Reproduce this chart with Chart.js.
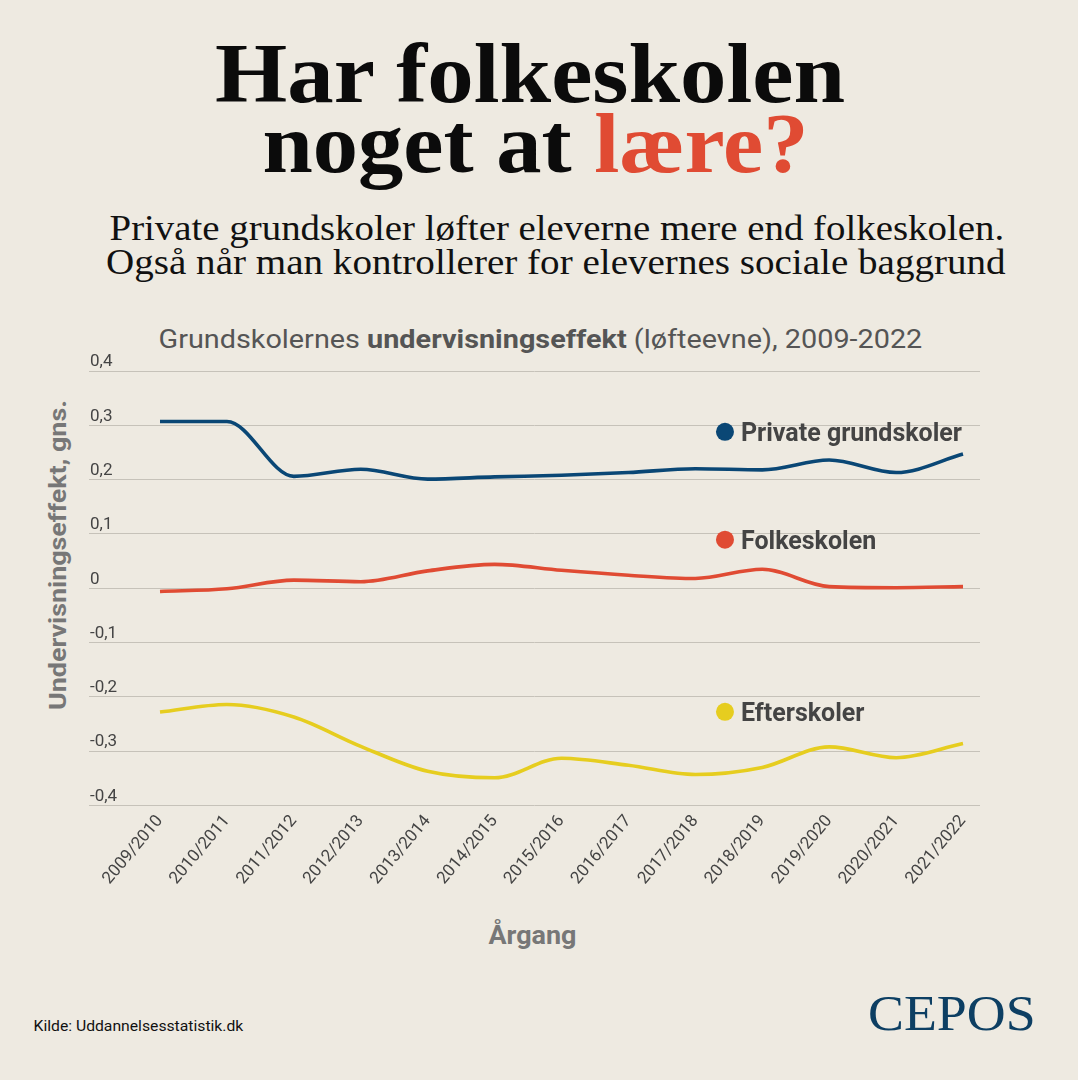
<!DOCTYPE html>
<html><head><meta charset="utf-8">
<script src="https://cdn.jsdelivr.net/npm/chart.js@4.4.1/dist/chart.umd.min.js"></script>
<style>
html,body{margin:0;padding:0;background:#eeeae1;}
#page{position:relative;width:1078px;height:1080px;overflow:hidden;background:#eeeae1;}
.t{position:absolute;white-space:nowrap;line-height:1;}
#c{position:absolute;left:0;top:350px;}
</style></head>
<body><div id="page">
<div class="t" data-cx="530" data-cy="73.7" data-w="630" style="font:bold 84px 'Liberation Serif';color:#0b0b0b;">Har folkeskolen</div>
<div class="t" data-cx="535" data-cy="143.7" data-w="546" style="font:bold 84px 'Liberation Serif';color:#0b0b0b;">noget at <span style="color:#e04b33">lære?</span></div>
<div class="t" data-cx="557" data-cy="229.2" data-w="895" style="font:35px 'Liberation Serif';color:#111;">Private grundskoler løfter eleverne mere end folkeskolen.</div>
<div class="t" data-cx="556" data-cy="263.2" data-w="900" style="font:35px 'Liberation Serif';color:#111;">Også når man kontrollerer for elevernes sociale baggrund</div>
<div class="t" data-cx="540" data-cy="339.5" data-w="764" style="font:25px Roboto;color:#555;">Grundskolernes <b>undervisningseffekt</b> (løfteevne), 2009-2022</div>
<div class="t" data-cx="58" data-cy="555" data-w="310" data-rot="-90" style="font:bold 24px Roboto;color:#777;">Undervisningseffekt, gns.</div>
<div class="t" data-cx="532" data-cy="935" data-w="88" style="font:bold 26px Roboto;color:#777;">Årgang</div>
<div class="t" data-cx="138" data-cy="1026" data-w="210" style="font:14px Roboto;color:#111;">Kilde: Uddannelsesstatistik.dk</div>
<div class="t" data-cx="952" data-cy="1013" data-w="168" style="font:50px 'Liberation Serif';color:#0d3f63;">CEPOS</div>
<canvas id="c" width="1078" height="610"></canvas>
</div>
<script>
// ---- data ----
const categories = ['2009/2010','2010/2011','2011/2012','2012/2013','2013/2014','2014/2015','2015/2016','2016/2017','2017/2018','2018/2019','2019/2020','2020/2021','2021/2022'];
const seriesNames = ['Private grundskoler','Folkeskolen','Efterskoler'];
const privateGrundskoler = [0.307, 0.307, 0.206, 0.219, 0.201, 0.205, 0.208, 0.213, 0.220, 0.218, 0.236, 0.213, 0.247];
const folkeskolen = [-0.006, -0.001, 0.015, 0.012, 0.032, 0.044, 0.033, 0.024, 0.018, 0.035, 0.003, 0.001, 0.003];
const efterskoler = [-0.228, -0.214, -0.237, -0.291, -0.337, -0.349, -0.313, -0.326, -0.343, -0.330, -0.292, -0.312, -0.286];
const yTickValues = [-0.4, -0.3, -0.2, -0.1, 0, 0.1, 0.2, 0.3, 0.4];
const seriesColors = ['#0a4775', '#e04b33', '#e6cd1f'];

function fitAll(){
  document.querySelectorAll('[data-w]').forEach(el=>{
    el.style.transform='none';
    const w0 = el.offsetWidth, h0 = el.offsetHeight;
    const W = +el.dataset.w, cx = +el.dataset.cx, cy = +el.dataset.cy, rot = +(el.dataset.rot||0);
    const s = W / w0;
    el.style.left = (cx - w0/2) + 'px';
    el.style.top = (cy - h0/2) + 'px';
    el.style.transformOrigin = '50% 50%';
    el.style.transform = 'rotate(' + rot + 'deg) scaleX(' + s + ')';
  });
}
fitAll();
if (document.fonts && document.fonts.ready) document.fonts.ready.then(fitAll);

const seriesLabelPlugin = {
  id: 'seriesLabels',
  afterDatasetsDraw(chart, args, opts) {
    const {ctx, scales: {x, y}} = chart;
    ctx.save();
    chart.data.datasets.forEach((ds, i) => {
      const px = x.getPixelForValue(opts.atX);
      const py = y.getPixelForValue(opts.atY[i]);
      ctx.fillStyle = ds.borderColor;
      ctx.beginPath();
      ctx.arc(px, py, 9, 0, Math.PI * 2);
      ctx.fill();
      ctx.fillStyle = '#444';
      ctx.font = 'bold 25px Roboto';
      ctx.textAlign = 'left';
      ctx.textBaseline = 'alphabetic';
      ctx.fillText(ds.label, px + 16, py + 9);
    });
    ctx.restore();
  }
};

const series = [privateGrundskoler, folkeskolen, efterskoler];
new Chart(document.getElementById('c'), {
  type: 'line',
  data: {
    datasets: series.map((vals, i) => ({
      label: seriesNames[i],
      data: vals.map((v, j) => ({x: j, y: v})),
      borderColor: seriesColors[i],
      backgroundColor: seriesColors[i],
      borderWidth: 3.6,
      pointRadius: 0,
      cubicInterpolationMode: 'monotone',
      fill: false
    }))
  },
  options: {
    responsive: false,
    animation: false,
    devicePixelRatio: 1,
    layout: {padding: {left: 89, right: 98, top: 21, bottom: 0}},
    plugins: {
      legend: {display: false},
      tooltip: {enabled: false},
      seriesLabels: {atX: 8.443, atY: [0.288, 0.0895, -0.2275]}
    },
    scales: {
      x: {
        type: 'linear',
        min: -1.061,
        max: 12.254,
        grid: {display: false, drawTicks: false},
        border: {display: false},
        afterBuildTicks: s => { s.ticks = categories.map((_, i) => ({value: i})); },
        afterFit: s => { s.height = 154.5; },
        ticks: {
          autoSkip: false,
          minRotation: 50,
          maxRotation: 50,
          padding: 6,
          color: '#444',
          font: {family: 'Roboto', size: 17},
          callback: v => categories[v]
        }
      },
      y: {
        min: -0.4,
        max: 0.4,
        afterBuildTicks: s => { s.ticks = yTickValues.map(v => ({value: v})); },
        afterFit: s => { s.width = 0; },
        grid: {color: '#c6c2b9', lineWidth: 1, drawTicks: false},
        border: {display: false},
        ticks: {
          mirror: true,
          padding: 1,
          labelOffset: -9,
          color: '#444',
          font: {family: 'Roboto', size: 17},
          callback: v => Math.abs(v) < 1e-9 ? '0' : v.toFixed(1).replace('.', ',')
        }
      }
    }
  },
  plugins: [seriesLabelPlugin]
});
</script>
</body></html>
